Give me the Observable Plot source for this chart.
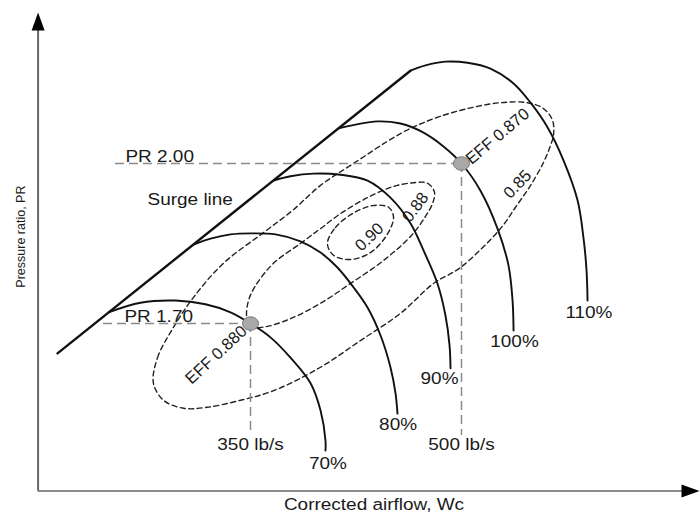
<!DOCTYPE html>
<html>
<head>
<meta charset="utf-8">
<script src="https://cdn.jsdelivr.net/npm/d3@7"></script>
<script src="https://cdn.jsdelivr.net/npm/@observablehq/plot@0.6"></script>
<style>
  html, body { margin: 0; padding: 0; background: #fff; }
  #chart svg { display: block; }
</style>
</head>
<body>
<div id="chart"></div>
<script>
// ---------- Data: [corrected airflow Wc (lb/s), pressure ratio PR] ----------
const speedNames = ["70%", "80%", "90%", "100%", "110%"];
const speed70  = [[249.1,1.721],[271.8,1.739],[296.7,1.743],[318.0,1.736],[335.8,1.721],[350,1.700],[364.2,1.674],[378.4,1.636],[392.7,1.588],[399.8,1.537],[403.3,1.481],[403.3,1.462]];
const speed80  = [[309.5,1.848],[321.6,1.859],[335.8,1.867],[350,1.869],[367.8,1.867],[385.5,1.854],[399.8,1.833],[411.8,1.805],[423.2,1.768],[433.2,1.730],[442.4,1.678],[449.5,1.618],[453.1,1.569],[454.5,1.531]];
const speed90  = [[366.4,1.968],[378.4,1.976],[394.8,1.981],[414.0,1.979],[433.2,1.968],[449.5,1.936],[463.7,1.888],[473.0,1.837],[482.9,1.775],[488.6,1.715],[491.5,1.659],[492.2,1.616]];
const speed100 = [[412.6,2.066],[424.6,2.073],[440.3,2.079],[456.6,2.075],[473.0,2.058],[487.2,2.032],[500,2.000],[513.5,1.949],[525.6,1.878],[533.4,1.809],[536.3,1.743],[537.0,1.687]];
const speed110 = [[463.7,2.174],[474.4,2.184],[488.6,2.191],[504.3,2.189],[520.6,2.178],[537.0,2.150],[549.1,2.114],[561.1,2.068],[572.5,2.006],[582.5,1.931],[586.7,1.861],[588.9,1.799],[589.6,1.743]];
const speedLabelPos = [[405.1,1.438],[454.9,1.511],[484.4,1.597],[537.7,1.665],[590.6,1.720]];

const surgeLine = [[212.8,1.644],[463.7,2.174]];

// Efficiency islands (closed contours)
const effNames = ["0.90", "0.88", "0.85"];
const eff090 = [[404.7,1.850],[410.4,1.880],[422.5,1.906],[436.7,1.921],[448.1,1.918],[451.7,1.899],[446.7,1.865],[435.3,1.833],[421.1,1.820],[409.0,1.828]];
const eff088 = [[349.3,1.694],[347.2,1.715],[348.6,1.743],[353.6,1.771],[366.4,1.813],[385.5,1.850],[399.8,1.878],[414.0,1.906],[433.2,1.936],[451.7,1.957],[465.9,1.964],[475.8,1.963],[480.8,1.946],[479.4,1.925],[474.4,1.901],[464.4,1.865],[444.5,1.818],[421.1,1.775],[399.8,1.738],[378.4,1.709],[360.7,1.694]];
const eff085 = [[281.0,1.588],[283.9,1.636],[295.3,1.693],[309.5,1.749],[330.8,1.813],[358.5,1.869],[379.9,1.912],[399.8,1.959],[423.2,2.000],[456.6,2.056],[480.1,2.084],[504.3,2.103],[527.7,2.114],[546.9,2.114],[558.3,2.103],[564.7,2.081],[565.4,2.053],[563.3,2.034],[558.3,2.002],[549.1,1.959],[538.4,1.918],[527.7,1.878],[499.3,1.805],[480.1,1.775],[456.6,1.719],[428.2,1.668],[399.8,1.618],[366.4,1.574],[342.9,1.556],[319.4,1.543],[302.4,1.541],[288.2,1.556]];
const effLabelPos = [[434.6,1.862],[467.3,1.918],[539.8,1.961]];
const effLabelAngle = [-44, -53, -46];

// Operating points
const opWc = [350, 500];
const opPR = [1.70, 2.00];
const opEffText = ["EFF 0.880", "EFF 0.870"];
const opEffPos = [[325.6,1.641],[525.6,2.051]];
const opEffAngle = [-43, -40];
const prText = ["PR 1.70", "PR 2.00"];
const prLineStart = [245.5, 254.0];
const prTextPos = [[260.4,1.713],[261.1,2.013]];
const flowText = ["350 lb/s", "500 lb/s"];
const flowLineEnd = 1.49;
const flowTextPR = 1.473;

// Axes
const axisWc = [199.0, 669.2];   // origin, arrow tip
const axisPR = [1.386, 2.283];   // origin, arrow tip
const xTitle = "Corrected airflow, Wc";
const yTitle = "Pressure ratio, PR";
const surgeText = "Surge line";
const surgeTextPos = [276.8, 1.933];

// ---------- Build tables ----------
const speedSets = [speed70, speed80, speed90, speed100, speed110];
const speedRows = speedSets.flatMap((pts, i) => pts.map(([Wc, PR]) => ({curve: speedNames[i], Wc, PR})));
const effSets = [eff090, eff088, eff085];
const effRows = effSets.flatMap((pts, i) => pts.map(([Wc, PR]) => ({curve: effNames[i], Wc, PR})));
const surgeRows = surgeLine.map(([Wc, PR]) => ({Wc, PR}));
const speedLabelRows = speedNames.map((t, i) => ({t, Wc: speedLabelPos[i][0], PR: speedLabelPos[i][1]}));
const effLabelRows = effNames.map((t, i) => ({t, Wc: effLabelPos[i][0], PR: effLabelPos[i][1], a: effLabelAngle[i]}));
const opRows = opWc.map((Wc, i) => ({Wc, PR: opPR[i], start: prLineStart[i]}));
const opEffRows = opEffText.map((t, i) => ({t, Wc: opEffPos[i][0], PR: opEffPos[i][1], a: opEffAngle[i]}));
const prTextRows = prText.map((t, i) => ({t, Wc: prTextPos[i][0], PR: prTextPos[i][1]}));
const flowTextRows = flowText.map((t, i) => ({t, Wc: opWc[i], PR: flowTextPR}));

const arrowHead = {draw(ctx) { ctx.moveTo(0, 0); ctx.lineTo(6.5, 18); ctx.lineTo(-6.5, 18); ctx.closePath(); }};
const opSymbol = {draw(ctx) {
  const rx = 8, ry = 6.7, k = 0.5523;
  ctx.moveTo(rx, 0);
  ctx.bezierCurveTo(rx, ry*k, rx*k, ry, 0, ry);
  ctx.bezierCurveTo(-rx*k, ry, -rx, ry*k, -rx, 0);
  ctx.bezierCurveTo(-rx, -ry*k, -rx*k, -ry, 0, -ry);
  ctx.bezierCurveTo(rx*k, -ry, rx, -ry*k, rx, 0);
  ctx.closePath();
}};

const FONT = "'Liberation Sans', Arial, Helvetica, sans-serif";
const INK = "#1a1a1a";

const chart = Plot.plot({
  width: 700,
  height: 515,
  marginTop: 0, marginRight: 0, marginBottom: 0, marginLeft: 0,
  x: {type: "linear", domain: [350, 500], range: [250, 461], axis: null},
  y: {type: "linear", domain: [1.70, 2.00], range: [323, 163], axis: null},
  style: {fontFamily: FONT, background: "#fff", color: INK},
  marks: [
    // axes
    Plot.ruleY([axisPR[0]], {x1: axisWc[0], x2: axisWc[1] - 10, stroke: "#666", strokeWidth: 1.6}),
    Plot.ruleX([axisWc[0]], {y1: axisPR[0], y2: axisPR[1] - 0.02, stroke: "#666", strokeWidth: 2}),
    Plot.dot([{Wc: axisWc[1], PR: axisPR[0], r: 90}, {Wc: axisWc[0], PR: axisPR[1], r: 0}],
      {x: "Wc", y: "PR", rotate: "r", symbol: arrowHead, fill: "#000", stroke: "none"}),
    // efficiency islands
    Plot.line(effRows, {x: "Wc", y: "PR", z: "curve", curve: "catmull-rom-closed",
      stroke: "#222", strokeWidth: 1.4, strokeDasharray: "5,3.5"}),
    // reference dashed lines
    Plot.ruleY(opRows, {y: "PR", x1: "start", x2: "Wc", stroke: "#8a8a8a", strokeWidth: 1.5, strokeDasharray: "9,5"}),
    Plot.ruleX(opRows, {x: "Wc", y1: "PR", y2: flowLineEnd, stroke: "#8a8a8a", strokeWidth: 1.5, strokeDasharray: "9,5"}),
    // speed lines
    Plot.line(speedRows, {x: "Wc", y: "PR", z: "curve", curve: "catmull-rom", stroke: "#111", strokeWidth: 1.9}),
    // surge line
    Plot.line(surgeRows, {x: "Wc", y: "PR", stroke: "#111", strokeWidth: 2.4}),
    // operating points
    Plot.dot(opRows, {x: "Wc", y: "PR", symbol: opSymbol, fill: "#a8a8a8", stroke: "#777", strokeWidth: 1}),
    // horizontal labels
    Plot.text(speedLabelRows, {x: "Wc", y: "PR", text: "t", fontSize: 16.5, fill: INK}),
    Plot.text(flowTextRows, {x: "Wc", y: "PR", text: "t", fontSize: 16.5, fill: INK}),
    Plot.text(prTextRows, {x: "Wc", y: "PR", text: "t", textAnchor: "start", fontSize: 16.5, fill: INK}),
    Plot.text([surgeText], {x: surgeTextPos[0], y: surgeTextPos[1], text: d => d, textAnchor: "start", fontSize: 16.5, fill: INK}),
    Plot.text([xTitle], {x: 437.8, y: 1.361, text: d => d, fontSize: 16.5, fill: INK}),
    // rotated labels
    Plot.text(effLabelRows, {x: "Wc", y: "PR", text: "t", rotate: "a", fontSize: 16.5, fill: INK}),
    Plot.text(opEffRows, {x: "Wc", y: "PR", text: "t", rotate: "a", fontSize: 16.5, fill: INK}),
    Plot.text([yTitle], {x: 186.5, y: 1.863, text: d => d, rotate: -90, fontSize: 12.5, fill: INK})
  ]
});

// The reference lettering is slightly wide: stretch the unrotated labels horizontally.
chart.querySelectorAll("text").forEach(t => {
  const tr = t.getAttribute("transform") || "";
  if (tr.includes("rotate")) return;
  const x = t.getAttribute("x");
  if (x != null) {
    t.setAttribute("transform", `${tr} translate(${x},0) scale(1.15,1) translate(${-x},0)`.trim());
  } else if (tr) {
    t.setAttribute("transform", tr + " scale(1.15,1)");
  }
});

document.getElementById("chart").appendChild(chart);
</script>
</body>
</html>
